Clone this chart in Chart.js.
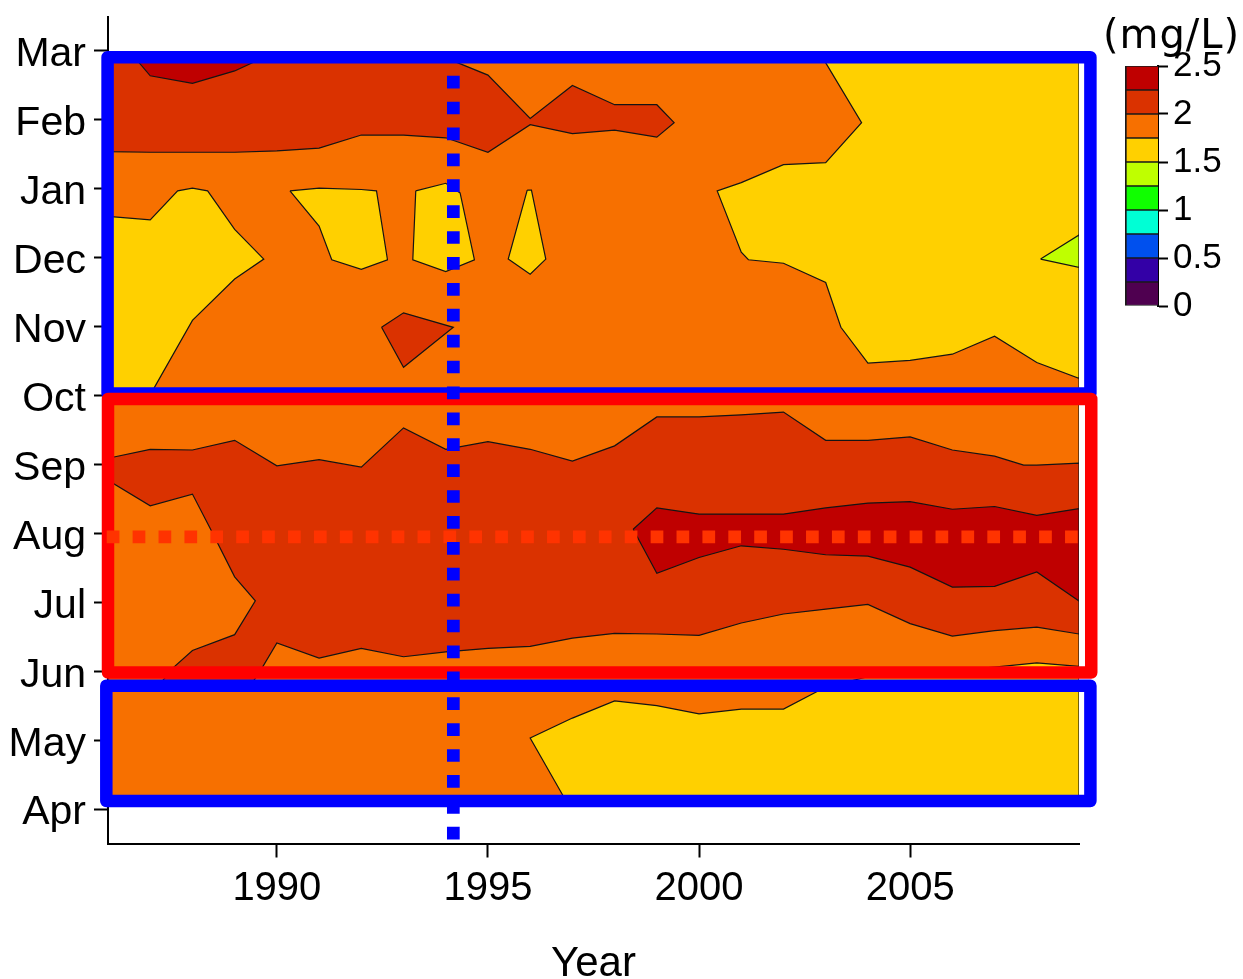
<!DOCTYPE html>
<html>
<head>
<meta charset="utf-8">
<script src="https://cdn.jsdelivr.net/npm/chart.js@4.4.1/dist/chart.umd.min.js"></script>
<style>
  html, body { margin: 0; padding: 0; background: #fff; overflow: hidden; }
  #wrap { position: relative; width: 1243px; height: 979px; }
  #main { position: absolute; left: 0; top: 0; width: 1243px; height: 979px; }
  #scale { position: absolute; left: 1097px; top: 0; width: 143px; height: 340px; }
  #unit {
    position: absolute; right: 3px; top: 14px;
    font-family: "DejaVu Sans", "Noto Sans", sans-serif; font-size: 40px; line-height: 40px;
    white-space: nowrap; color: #000;
  }
</style>
</head>
<body>
<div id="wrap">
  <canvas id="main" width="1243" height="979"></canvas>
  <canvas id="scale" width="143" height="340"></canvas>
  <div id="unit">(mg/L)</div>
</div>
<script>
// ---- axes -------------------------------------------------------------
// month index 0 = April ... 11 = March (water year)
const months = ['Apr', 'May', 'Jun', 'Jul', 'Aug', 'Sep', 'Oct', 'Nov', 'Dec', 'Jan', 'Feb', 'Mar'];
const yearTicks = [1990, 1995, 2000, 2005];

// ---- concentration classes (mg/L) ------------------------------------
const levels = [0, 0.25, 0.5, 0.75, 1, 1.25, 1.5, 1.75, 2, 2.25, 2.5];
const levelColors = ['#4f0050', '#3300a6', '#0050ee', '#00ffd5', '#10ff00',
                     '#bfff00', '#ffd000', '#f77000', '#da3200', '#bf0000'];
const colorbarTicks = [0, 0.5, 1, 1.5, 2, 2.5];

// ---- filled contour regions: [year, month index] vertices -------------
const baseField = [[1986, 0.15], [2009, 0.15], [2009, 10.9], [1986, 10.9]];          // 1.75-2.0
const redWinter = [[1986, 10.9], [1994.0, 10.9], [1995, 10.65], [1996, 10.02], [1997, 10.50],
  [1998, 10.22], [1999, 10.22], [1999.41, 9.96], [1999, 9.75], [1998, 9.85], [1997, 9.80],
  [1996, 9.93], [1995, 9.53], [1994, 9.74], [1993, 9.78], [1992, 9.78], [1991, 9.59],
  [1990, 9.55], [1989, 9.53], [1988, 9.53], [1987, 9.53], [1986, 9.54]];              // 2.0-2.25
const darkRedWinter = [[1986.64, 10.9], [1987, 10.64], [1988, 10.53], [1989, 10.71], [1989.67, 10.9]]; // 2.25-2.5
const yellowWest = [[1986, 8.60], [1987, 8.55], [1987.65, 8.97], [1988, 9.01], [1988.36, 8.97],
  [1989, 8.41], [1989.69, 7.98], [1989, 7.69], [1988, 7.09], [1987.11, 6.13], [1986.98, 5.97], [1986, 5.97]];
const yellowDec91 = [[1990.31, 8.97], [1991, 9.01], [1992, 8.99], [1992.36, 8.97], [1992.62, 7.97],
  [1992, 7.83], [1991.30, 7.97], [1991, 8.46]];
const yellowDec94 = [[1993.29, 8.97], [1994, 9.08], [1994.34, 8.94], [1994.68, 7.97], [1994, 7.80], [1993.22, 7.97]];
const yellowDec96 = [[1995.93, 8.98], [1996.03, 8.98], [1996.37, 7.98], [1996, 7.76], [1995.48, 7.98]];
const redNov93 = [[1992.48, 6.99], [1993, 7.20], [1994.18, 6.99], [1993, 6.41]];
const yellowEast = [[2002.93, 10.9], [2003.85, 9.96], [2003, 9.38], [2002, 9.35], [2001, 9.09],
  [2000.43, 8.97], [2001, 8.08], [2001.17, 7.97], [2002, 7.92], [2003, 7.64], [2003.36, 6.99],
  [2004, 6.47], [2005, 6.51], [2006, 6.60], [2007, 6.86], [2008, 6.48], [2009, 6.25], [2009, 10.9]];
const limeDec08 = [[2008.09, 7.98], [2009, 8.33], [2009, 7.86]];
const redSummer = [[1986, 5.09], [1987, 5.22], [1988, 5.21], [1989, 5.35], [1990, 4.98], [1991, 5.07],
  [1992, 4.96], [1993, 5.53], [1994, 5.22], [1995, 5.33], [1996, 5.22], [1997, 5.05], [1998, 5.27],
  [1999, 5.69], [2000, 5.69], [2001, 5.72], [2002, 5.76], [2003, 5.35], [2004, 5.35], [2005, 5.40],
  [2006, 5.21], [2007, 5.12], [2007.69, 4.99], [2008, 4.99], [2009, 5.02],
  [2009, 2.54], [2008, 2.64], [2007, 2.59], [2006, 2.51], [2005, 2.69], [2004, 2.97], [2003, 2.90],
  [2002, 2.83], [2001, 2.70], [2000, 2.52], [1999, 2.54], [1998, 2.55], [1997, 2.48], [1996, 2.36],
  [1995, 2.33], [1994, 2.28], [1993, 2.21], [1992, 2.33], [1991, 2.19], [1990, 2.41], [1989.66, 2.06],
  [1989.42, 1.83], [1987.25, 1.83], [1987.56, 2.06], [1988, 2.30], [1989, 2.53], [1989.49, 3.02],
  [1989, 3.37], [1988.44, 4.05], [1988, 4.57], [1987, 4.40], [1986, 4.77]];
const darkRedSummer = [[1998.44, 4.06], [1999, 4.37], [2000, 4.28], [2001, 4.28], [2002, 4.28],
  [2003, 4.37], [2004, 4.44], [2005, 4.46], [2006, 4.35], [2007, 4.39], [2008, 4.26], [2009, 4.36],
  [2009, 3.02], [2008, 3.44], [2007, 3.23], [2006, 3.22], [2005, 3.51], [2004, 3.67], [2003, 3.69],
  [2002, 3.77], [2001, 3.82], [2000, 3.65], [1999, 3.42]];
const yellowSpring = [[1996.82, 0.15], [1996, 1.03], [1997, 1.32], [1998, 1.57], [1999, 1.50],
  [2000, 1.38], [2001, 1.45], [2002, 1.45], [2003, 1.77], [2004, 1.92], [2005, 1.98], [2006, 2.01],
  [2007, 2.06], [2008, 2.12], [2009, 2.07], [2009, 0.15]];

// ---- highlighted periods: [year from, year to, month from, month to] ---
const winterBox = [1985.99, 2009.27, 6.03, 10.91];
const summerBox = [1986.0, 2009.29, 1.98, 5.95];
const springBox = [1985.96, 2009.27, 0.116, 1.79];
// reference lines
const augustLine = [[1985.97, 3.95], [2009.0, 3.95]];
const eventYearLine = [[1994.18, 10.64], [1994.18, -0.45]];

// ---- build datasets (listed bottom to top) -----------------------------
const regions = [
  [baseField, 7], [redWinter, 8], [darkRedWinter, 9], [yellowWest, 6], [yellowDec91, 6],
  [yellowDec94, 6], [yellowDec96, 6], [redNov93, 8], [yellowEast, 6], [limeDec08, 5],
  [redSummer, 8], [darkRedSummer, 9], [yellowSpring, 6]
];

function toPoints(pts, close) {
  const d = pts.map(([x, y]) => ({ x, y }));
  if (close) d.push({ x: pts[0][0], y: pts[0][1] });
  return d;
}

const layers = [];
regions.forEach(([pts, band]) => {
  layers.push({
    data: toPoints(pts, true),
    fill: 'shape',
    backgroundColor: levelColors[band],
    borderColor: '#141414',
    borderWidth: 1.2,
    pointRadius: 0
  });
});

function boxLayer(b, color) {
  const [x0, x1, y0, y1] = b;
  return {
    data: toPoints([[x0, y0], [x1, y0], [x1, y1], [x0, y1]], true),
    fill: false,
    borderColor: color,
    borderWidth: 12.5,
    borderJoinStyle: 'round',
    borderCapStyle: 'round',
    pointRadius: 0,
    clip: false
  };
}
layers.push(boxLayer(winterBox, '#0000ff'));
layers.push(boxLayer(summerBox, '#ff0000'));
layers.push(boxLayer(springBox, '#0000ff'));

function dottedLayer(pts, color) {
  return {
    data: toPoints(pts, false),
    fill: false,
    borderColor: color,
    borderWidth: 12.7,
    borderDash: [12.7, 13.2],
    borderCapStyle: 'butt',
    pointRadius: 0,
    clip: false
  };
}
layers.push(dottedLayer(augustLine, '#ff3300'));
layers.push(dottedLayer(eventYearLine, '#0000ff'));

// higher order is painted first, so later layers end up on top
layers.forEach((ds, i) => { ds.order = layers.length - i; ds.tension = 0; });

function zeroPadding(s) {
  s.paddingLeft = 0; s.paddingRight = 0; s.paddingTop = 0; s.paddingBottom = 0;
}

Chart.defaults.font.family = 'Liberation Sans';
Chart.defaults.color = '#000';

new Chart(document.getElementById('main'), {
  type: 'line',
  data: { datasets: layers },
  options: {
    responsive: false,
    animation: false,
    devicePixelRatio: 1,
    events: [],
    layout: { padding: { top: 16.5, right: 164, bottom: 0, left: 0 } },
    plugins: { legend: { display: false }, tooltip: { enabled: false } },
    scales: {
      x: {
        type: 'linear',
        min: 1986,
        max: 2009,
        afterBuildTicks: s => { s.ticks = yearTicks.map(v => ({ value: v })); },
        afterFit: s => { s.height = 135.5; zeroPadding(s); },
        grid: { drawOnChartArea: false, tickLength: 14, tickWidth: 2, tickColor: '#000' },
        border: { display: true, color: '#000', width: 2 },
        ticks: {
          color: '#000', font: { size: 40 }, padding: 7, maxRotation: 0, autoSkip: false,
          callback: v => String(v)
        },
        title: {
          display: true, text: 'Year', color: '#000',
          font: { size: 42, lineHeight: 1 }, padding: { top: 0, bottom: -6 }
        }
      },
      y: {
        type: 'linear',
        min: -0.5,
        max: 11.5,
        afterBuildTicks: s => { s.ticks = months.map((m, i) => ({ value: i })); },
        afterFit: s => { s.width = 108; zeroPadding(s); },
        grid: { drawOnChartArea: false, tickLength: 14, tickWidth: 2, tickColor: '#000' },
        border: { display: true, color: '#000', width: 2 },
        ticks: {
          color: '#000', font: { size: 41, lineHeight: 0.2 }, padding: 8, autoSkip: false,
          // empty first line nudges each month name slightly below its tick
          callback: v => ['', months[v]]
        }
      }
    }
  }
});

// ---- colour key ------------------------------------------------------
new Chart(document.getElementById('scale'), {
  type: 'bar',
  data: {
    labels: [''],
    datasets: levelColors.map((c, i) => ({
      data: [levels[i + 1] - levels[i]],
      backgroundColor: c,
      borderColor: '#1a1a1a',
      borderWidth: { top: 1, bottom: 1, left: 2, right: 0 },
      borderSkipped: false,
      barPercentage: 1,
      categoryPercentage: 1,
      stack: 'key'
    }))
  },
  options: {
    responsive: false,
    animation: false,
    devicePixelRatio: 1,
    events: [],
    layout: { padding: { top: 66, left: 28, right: 0, bottom: 34 } },
    plugins: { legend: { display: false }, tooltip: { enabled: false } },
    scales: {
      x: { display: false, stacked: true },
      y: {
        position: 'right',
        stacked: true,
        min: 0,
        max: 2.5,
        afterBuildTicks: s => { s.ticks = colorbarTicks.map(v => ({ value: v })); },
        afterFit: s => { s.width = 82; zeroPadding(s); },
        grid: { drawOnChartArea: false, tickLength: 10, tickWidth: 2, tickColor: '#000' },
        border: { display: true, color: '#000', width: 2 },
        ticks: { color: '#000', font: { size: 35 }, padding: 5, callback: v => String(v) }
      }
    }
  }
});

// widen the unit caption's letter spacing so it spans the key's heading width
(function () {
  const unit = document.getElementById('unit');
  const w = unit.getBoundingClientRect().width;
  const gap = (137 - w) / unit.textContent.length;
  if (gap > 0) unit.style.letterSpacing = gap.toFixed(2) + 'px';
})();
</script>
</body>
</html>
